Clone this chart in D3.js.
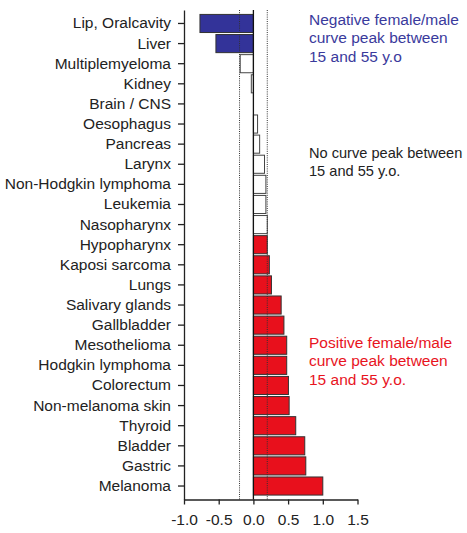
<!DOCTYPE html>
<html>
<head>
<meta charset="utf-8">
<script src="https://cdn.jsdelivr.net/npm/d3@7"></script>
<style>
  body { margin: 0; background: #fff; }
  svg { font-family: "Liberation Sans", Arial, sans-serif; }
  .axis text { font-size: 15.5px; fill: #222; }
  .axis path, .axis line { stroke: #222; stroke-width: 1.3; }
  .note { font-size: 15.5px; }
</style>
</head>
<body>
<div class="chart"></div>
<script>
// cancer sites, top to bottom
const sites = ["Lip, Oralcavity", "Liver", "Multiplemyeloma", "Kidney", "Brain / CNS",
  "Oesophagus", "Pancreas", "Larynx", "Non-Hodgkin lymphoma", "Leukemia", "Nasopharynx",
  "Hypopharynx", "Kaposi sarcoma", "Lungs", "Salivary glands", "Gallbladder", "Mesothelioma",
  "Hodgkin lymphoma", "Colorectum", "Non-melanoma skin", "Thyroid", "Bladder", "Gastric", "Melanoma"]
const values = [-0.77, -0.54, -0.19, -0.03, 0, 0.06, 0.09, 0.16, 0.18, 0.18, 0.2,
  0.2, 0.23, 0.26, 0.4, 0.44, 0.48, 0.48, 0.505, 0.515, 0.61, 0.74, 0.755, 1.0]
const groups = ["neg", "neg", "none", "none", "none", "none", "none", "none", "none", "none", "none",
  "pos", "pos", "pos", "pos", "pos", "pos", "pos", "pos", "pos", "pos", "pos", "pos", "pos"]
const xTicks = [-1.0, -0.5, 0.0, 0.5, 1.0, 1.5]
const thresholds = [-0.2, 0.2]

const notes = [
  { lines: ["Negative female/male", "curve peak between", "15 and 55 y.o"], color: "#3a3a9c", y: 25, size: 15.5 },
  { lines: ["No curve peak between", "15 and 55 y.o."], color: "#222", y: 158, size: 14.6 },
  { lines: ["Positive female/male", "curve peak between", "15 and 55 y.o."], color: "#e8141e", y: 348, size: 15.5 }
]

const fills = { neg: "#333399", none: "#fff", pos: "#e8101c" }

const width = 467, height = 533
const svg = d3.select(".chart").append("svg")
  .attr("width", width)
  .attr("height", height)

const x = d3.scaleLinear()
  .domain([-1, 1.5])
  .range([184, 357.5])

const y = d3.scaleBand()
  .domain(sites)
  .range([10, 499.5])
  .paddingInner(0.1)
  .paddingOuter(0.22)

// bars
svg.append("g").selectAll("rect")
  .data(sites)
  .join("rect")
  .attr("x", (d, i) => x(Math.min(0, values[i])))
  .attr("y", d => y(d))
  .attr("width", (d, i) => Math.abs(x(values[i]) - x(0)))
  .attr("height", y.bandwidth())
  .attr("fill", (d, i) => fills[groups[i]])
  .attr("stroke", (d, i) => groups[i] == "none" ? "#444" : "#333")
  .attr("stroke-width", 1)

// dotted threshold lines
svg.append("g").selectAll("line")
  .data(thresholds)
  .join("line")
  .attr("x1", d => x(d)).attr("x2", d => x(d))
  .attr("y1", 10).attr("y2", 499.5)
  .attr("stroke", "#333")
  .attr("stroke-width", 1)
  .attr("stroke-dasharray", "1,1.2")

// zero line
svg.append("line")
  .attr("x1", x(0)).attr("x2", x(0))
  .attr("y1", 10).attr("y2", 499.5)
  .attr("stroke", "#111")
  .attr("stroke-width", 1.3)

// axes
svg.append("g")
  .attr("class", "axis")
  .attr("transform", "translate(184,0)")
  .call(d3.axisLeft(y).tickSizeInner(6).tickSizeOuter(0).tickPadding(7))

svg.append("g")
  .attr("class", "axis")
  .attr("transform", "translate(0,499.5)")
  .call(d3.axisBottom(x).tickValues(xTicks).tickSizeInner(5).tickSizeOuter(0)
    .tickPadding(9).tickFormat(d => d.toFixed(1)))

svg.selectAll(".axis .domain").attr("stroke-width", 1.5)

// annotations
notes.forEach(n => {
  const t = svg.append("text")
    .attr("class", "note")
    .style("font-size", n.size + "px")
    .attr("fill", n.color)
  n.lines.forEach((l, i) => {
    t.append("tspan")
      .attr("x", 309)
      .attr("y", n.y + i * 18.3)
      .text(l)
  })
})
</script>
</body>
</html>
